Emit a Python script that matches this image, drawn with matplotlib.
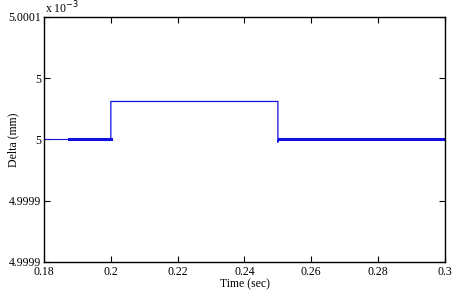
import matplotlib.pyplot as plt
import numpy as np

plt.rcParams['font.family'] = ['Liberation Serif', 'DejaVu Serif']

# time (sec) and delta (mm, in units of 1e-3)
t = [0.18, 0.1875, 0.2, 0.2, 0.25, 0.25, 0.2502, 0.3]
delta = [5.0, 5.0, 5.0, 5.000031, 5.000031, 4.9999977, 5.0, 5.0]

yticks = [4.9999, 4.99995, 5.0, 5.00005, 5.0001]
ytick_labels = ['4.9999', '4.9999', '5', '5', '5.0001']
xticks = [0.18, 0.2, 0.22, 0.24, 0.26, 0.28, 0.3]
xtick_labels = ['0.18', '0.2', '0.22', '0.24', '0.26', '0.28', '0.3']

fig = plt.figure(figsize=(4.54, 2.92), dpi=100)
ax = fig.add_axes([0.097, 0.103, 0.883, 0.839])

blue = '#1010e0'
# thin start, noisy (thick) pre-step, thin step, noisy (thick) tail
ax.plot(t[0:2], delta[0:2], color=blue, lw=0.8)
ax.plot(t[1:3], delta[1:3], color=blue, lw=2.2)
ax.plot(t[2:7], delta[2:7], color=blue, lw=0.9)
ax.plot(t[6:8], delta[6:8], color=blue, lw=2.2)

ax.set_xlim(0.18, 0.3)
ax.set_ylim(4.9999, 5.0001)
ax.set_xticks(xticks)
ax.set_xticklabels(xtick_labels)
ax.set_yticks(yticks)
ax.set_yticklabels(ytick_labels)
ax.tick_params(direction='in', length=4, top=True, right=True, labelsize=8.5)
ax.tick_params(axis='x', pad=3)
ax.tick_params(axis='y', pad=2)
for s in ax.spines.values():
    s.set_linewidth(1.0)

ax.set_xlabel('Time (sec)', fontsize=8.5, labelpad=0)
ax.set_ylabel('Delta (mm)', fontsize=8.5)
ax.yaxis.set_label_coords(-0.062, 0.5)
fig.text(0.099, 0.955, r'x 10$^{-3}$', fontsize=8.5)

plt.savefig('out.png', dpi=100)
